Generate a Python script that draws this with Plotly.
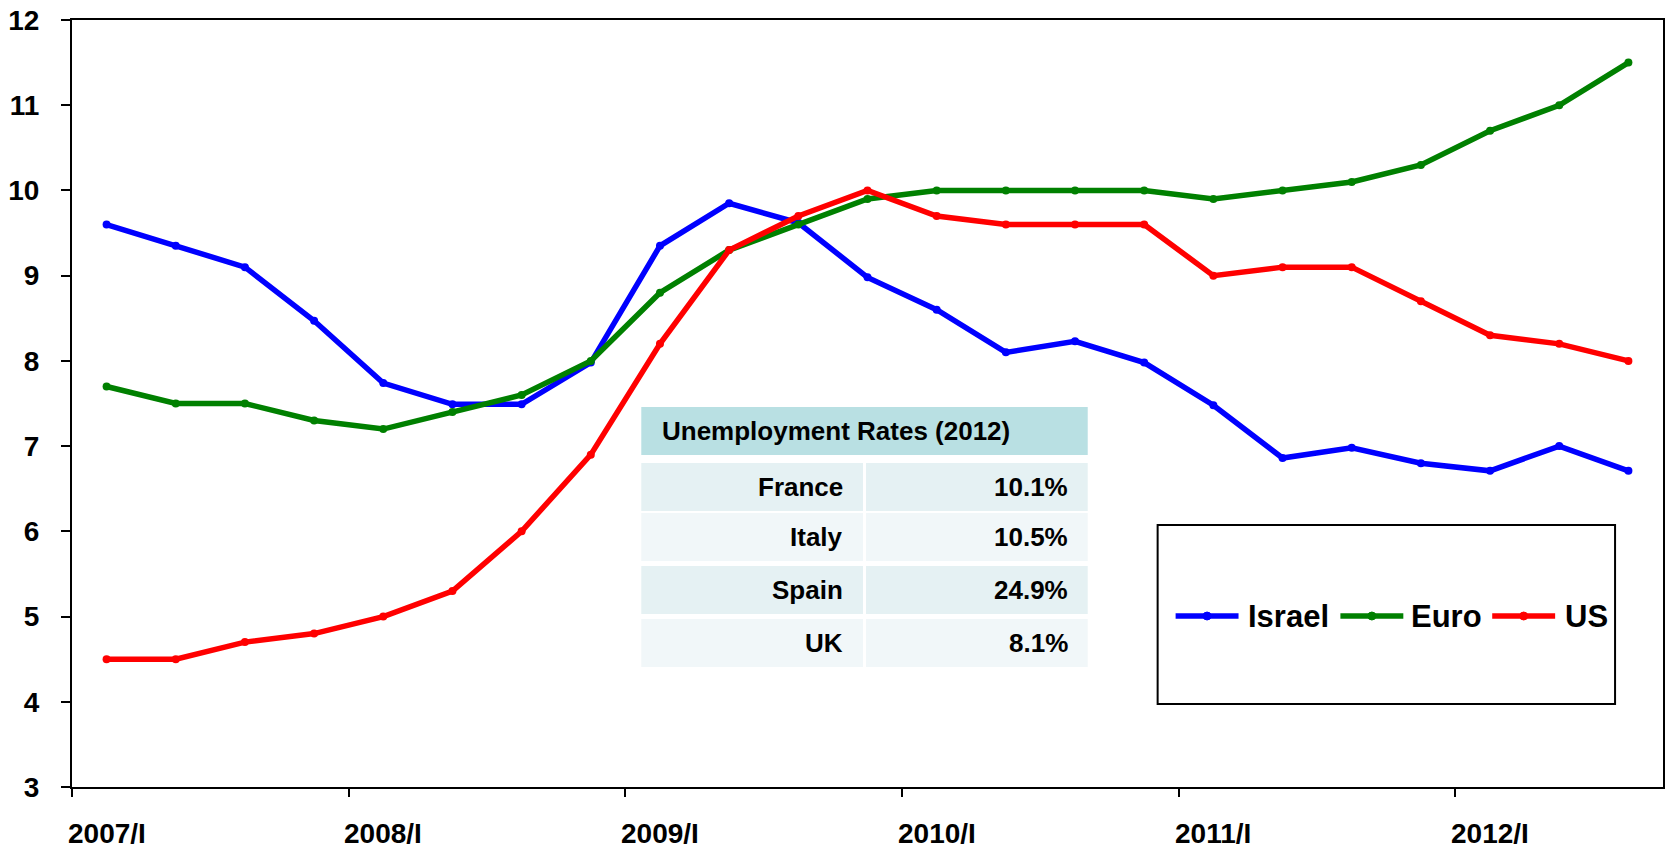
import plotly.graph_objects as go

# Quarterly unemployment rates (%), 2007/I - 2012/III
quarters = [
    "2007/I", "2007/II", "2007/III", "2007/IV",
    "2008/I", "2008/II", "2008/III", "2008/IV",
    "2009/I", "2009/II", "2009/III", "2009/IV",
    "2010/I", "2010/II", "2010/III", "2010/IV",
    "2011/I", "2011/II", "2011/III", "2011/IV",
    "2012/I", "2012/II", "2012/III",
]
israel = [9.6, 9.35, 9.1, 8.47, 7.74, 7.49, 7.49, 7.98,
          9.35, 9.85, 9.62, 8.98, 8.6, 8.1, 8.23, 7.98,
          7.48, 6.86, 6.98, 6.8, 6.71, 7.0, 6.71]
euro = [7.7, 7.5, 7.5, 7.3, 7.2, 7.4, 7.6, 8.0,
        8.8, 9.3, 9.6, 9.9, 10.0, 10.0, 10.0, 10.0,
        9.9, 10.0, 10.1, 10.3, 10.7, 11.0, 11.5]
us = [4.5, 4.5, 4.7, 4.8, 5.0, 5.3, 6.0, 6.9,
      8.2, 9.3, 9.7, 10.0, 9.7, 9.6, 9.6, 9.6,
      9.0, 9.1, 9.1, 8.7, 8.3, 8.2, 8.0]

series_names = ["Israel", "Euro", "US"]
series_colors = ["#0000FF", "#008000", "#FF0000"]

year_labels = ["2007/I", "2008/I", "2009/I", "2010/I", "2011/I", "2012/I"]

table_title = "Unemployment Rates (2012)"
table_countries = ["France", "Italy", "Spain", "UK"]
table_rates = ["10.1%", "10.5%", "24.9%", "8.1%"]

# ---- page geometry ----
WIDTH, HEIGHT = 1667, 853
ML, MR, MT, MB = 72, 2, 20, 66
PW = WIDTH - ML - MR
PH = HEIGHT - MT - MB
FONT = "Liberation Sans, Arial, sans-serif"


def px(x):
    return (x - ML) / PW


def py(y):
    return 1 - (y - MT) / PH


xs = list(range(len(quarters)))

fig = go.Figure()
for name, vals, col in zip(series_names, [israel, euro, us], series_colors):
    fig.add_trace(go.Scatter(
        x=xs, y=vals, name=name, customdata=quarters,
        mode="lines+markers",
        line=dict(color=col, width=5.5),
        marker=dict(color=col, size=8),
        hovertemplate="%{customdata}: %{y}<extra>" + name + "</extra>",
        showlegend=False,
    ))

shapes = []
annotations = []

# year labels under the first quarter of each year
for lab in year_labels:
    annotations.append(dict(
        x=quarters.index(lab), y=0, xref="x", yref="paper",
        text=lab, showarrow=False, xanchor="center", yanchor="middle",
        yshift=-46, font=dict(family=FONT, size=28, color="black", weight="bold"),
    ))

# ---- summary table ----
tx0, tx1, tsplit = 642, 1089, 865
shapes.append(dict(type="rect", xref="paper", yref="paper",
                   x0=px(tx0), x1=px(tx1), y0=py(455), y1=py(407),
                   fillcolor="#B9E0E3", line=dict(width=0), layer="above"))
annotations.append(dict(x=px(661), y=py(431), xref="paper", yref="paper",
                        text=table_title, showarrow=False,
                        xanchor="left", yanchor="middle",
                        font=dict(family=FONT, size=26, color="black", weight="bold")))
row_tops = [463, 513, 566, 619]
row_h = 48
row_fills = ["#E5F1F3", "#F1F7F9", "#E5F1F3", "#F1F7F9"]
for top, fill, country, rate in zip(row_tops, row_fills, table_countries, table_rates):
    shapes.append(dict(type="rect", xref="paper", yref="paper",
                       x0=px(tx0), x1=px(tsplit - 1), y0=py(top + row_h), y1=py(top),
                       fillcolor=fill, line=dict(width=0), layer="above"))
    shapes.append(dict(type="rect", xref="paper", yref="paper",
                       x0=px(tsplit + 2), x1=px(tx1), y0=py(top + row_h), y1=py(top),
                       fillcolor=fill, line=dict(width=0), layer="above"))
    cy = top + row_h / 2
    annotations.append(dict(x=px(846), y=py(cy), xref="paper", yref="paper",
                            text=country, showarrow=False,
                            xanchor="right", yanchor="middle",
                            font=dict(family=FONT, size=26, color="black", weight="bold")))
    annotations.append(dict(x=px(1071), y=py(cy), xref="paper", yref="paper",
                            text=rate, showarrow=False,
                            xanchor="right", yanchor="middle",
                            font=dict(family=FONT, size=26, color="black", weight="bold")))

# ---- legend box ----
shapes.append(dict(type="rect", xref="paper", yref="paper",
                   x0=px(1159), x1=px(1617), y0=py(704), y1=py(525),
                   fillcolor="white", line=dict(color="black", width=2), layer="above"))
leg_y = 616
leg_items = [(1177, 1247), (1342, 1411), (1494, 1565)]
for (lx, tx), name, col in zip(leg_items, series_names, series_colors):
    shapes.append(dict(type="line", xref="paper", yref="paper",
                       x0=px(lx), x1=px(lx + 63), y0=py(leg_y), y1=py(leg_y),
                       line=dict(color=col, width=5.5), layer="above"))
    cx = lx + 31.5
    shapes.append(dict(type="circle", xref="paper", yref="paper",
                       x0=px(cx - 4), x1=px(cx + 4), y0=py(leg_y + 4), y1=py(leg_y - 4),
                       fillcolor=col, line=dict(color=col, width=1), layer="above"))
    annotations.append(dict(x=px(tx), y=py(leg_y), xref="paper", yref="paper",
                            text=name, showarrow=False,
                            xanchor="left", yanchor="middle",
                            font=dict(family=FONT, size=31, color="black", weight="bold")))

fig.update_layout(
    width=WIDTH, height=HEIGHT,
    margin=dict(l=ML, r=MR, t=MT, b=MB, pad=0),
    paper_bgcolor="white", plot_bgcolor="white",
    font=dict(family=FONT, color="black"),
    shapes=shapes, annotations=annotations,
    showlegend=False,
)
fig.update_xaxes(
    range=[-0.5, len(quarters) - 0.5],
    tickvals=[-0.5, 3.5, 7.5, 11.5, 15.5, 19.5],
    ticktext=["", "", "", "", "", ""],
    ticks="outside", ticklen=8, tickwidth=2, tickcolor="black",
    showline=True, linewidth=2, linecolor="black", mirror=True,
    showgrid=False, zeroline=False,
)
fig.update_yaxes(
    range=[3, 12], dtick=1, tick0=3,
    ticks="outside", ticklen=9, tickwidth=2, tickcolor="black",
    ticklabelstandoff=16,
    tickfont=dict(family=FONT, size=28, color="black", weight="bold"),
    showline=True, linewidth=2, linecolor="black", mirror=True,
    showgrid=False, zeroline=False,
)

fig.write_html("out.html")
